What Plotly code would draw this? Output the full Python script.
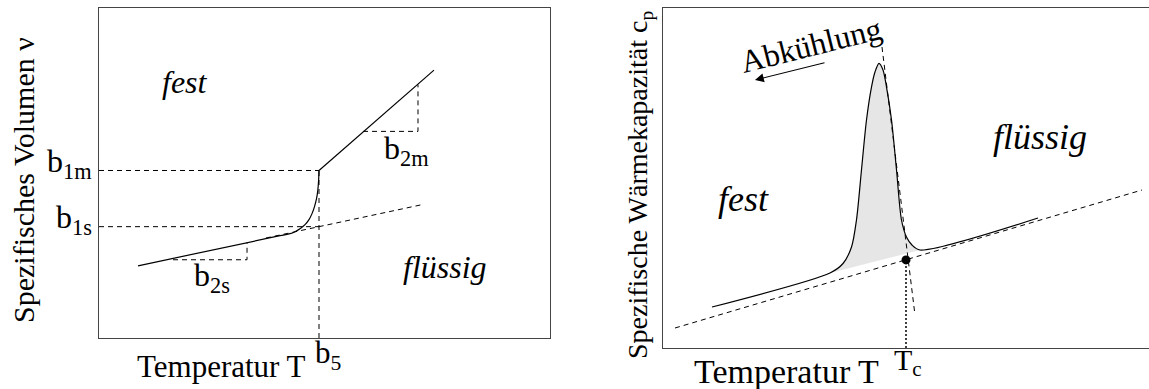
import plotly.graph_objects as go

W, H = 1149, 389
FONT = "'Liberation Serif', 'Times New Roman', Times, serif"

# ---------------- Left panel data (schematic units 0..10) ----------------
L_curve_x = [0.865, 4.013, 4.235, 4.346, 4.457, 4.568, 4.656, 4.723, 4.778, 4.823, 4.851, 4.869, 4.878]
L_curve_y = [2.188, 3.100, 3.161, 3.222, 3.313, 3.435, 3.587, 3.769, 3.982, 4.225, 4.468, 4.772, 5.076]
L_upper_x = [4.878, 7.428]
L_upper_y = [5.076, 8.116]
L_tangent_x = [3.70, 7.16]
L_tangent_y = [3.03, 4.04]
L_b1m = 5.076
L_b1s = 3.374
L_b5 = 4.878
L_b2s_x = [1.641, 3.282, 3.282]
L_b2s_y = [2.371, 2.371, 2.888]
L_b2m_x = [5.854, 7.073, 7.073]
L_b2m_y = [6.261, 6.261, 7.680]

# ---------------- Right panel data (schematic units 0..10) ----------------
R_base_x = [0.247, 9.856]
R_base_y = [0.588, 4.647]
R_curve_x = [1.008, 3.436, 3.704, 3.879, 3.981, 4.084, 4.187, 4.290, 4.362, 4.444,
             4.527, 4.599, 4.702, 4.805, 4.907, 5.010, 5.123, 5.288, 7.716]
R_curve_y = [1.206, 2.206, 2.485, 2.971, 3.765, 5.235, 6.706, 7.676, 8.118, 8.374,
             8.176, 7.676, 6.706, 5.235, 3.765, 3.265, 3.029, 2.882, 3.824]
R_peak_x = R_curve_x[1:18]
R_peak_y = R_curve_y[1:18]
R_steep_x = [4.506, 5.185]
R_steep_y = [8.853, 0.971]
R_Tc_x = 5.0
R_Tc_y = 2.59
R_arrow_from = (3.354, 8.403)
R_arrow_to = (1.893, 7.882)


def P(px, py):
    return px / W, 1 - py / H


fig = go.Figure()
blk = dict(color="black", width=1.2)
dsh = dict(color="black", width=1, dash="5px,4px")

# Left traces
fig.add_trace(go.Scatter(x=[0, L_b5], y=[L_b1m, L_b1m], mode="lines", line=dsh, xaxis="x", yaxis="y"))
fig.add_trace(go.Scatter(x=[0, L_b5], y=[L_b1s, L_b1s], mode="lines", line=dsh, xaxis="x", yaxis="y"))
fig.add_trace(go.Scatter(x=[L_b5, L_b5], y=[0, L_b1m], mode="lines", line=dsh, xaxis="x", yaxis="y"))
fig.add_trace(go.Scatter(x=L_tangent_x, y=L_tangent_y, mode="lines", line=dsh, xaxis="x", yaxis="y"))
fig.add_trace(go.Scatter(x=L_b2s_x, y=L_b2s_y, mode="lines", line=dsh, xaxis="x", yaxis="y"))
fig.add_trace(go.Scatter(x=L_b2m_x, y=L_b2m_y, mode="lines", line=dsh, xaxis="x", yaxis="y"))
fig.add_trace(go.Scatter(x=L_curve_x, y=L_curve_y, mode="lines", line=dict(blk, shape="spline", smoothing=0.8),
                         xaxis="x", yaxis="y"))
fig.add_trace(go.Scatter(x=L_upper_x, y=L_upper_y, mode="lines", line=blk, xaxis="x", yaxis="y"))

# Right traces
fig.add_trace(go.Scatter(x=R_peak_x, y=R_peak_y, mode="lines", fill="toself", fillcolor="#e6e6e6",
                         line=dict(width=0, shape="spline", smoothing=0.8), xaxis="x2", yaxis="y2"))
fig.add_trace(go.Scatter(x=R_base_x, y=R_base_y, mode="lines", line=dsh, xaxis="x2", yaxis="y2"))
fig.add_trace(go.Scatter(x=R_steep_x, y=R_steep_y, mode="lines", line=dsh, xaxis="x2", yaxis="y2"))
fig.add_trace(go.Scatter(x=[R_Tc_x, R_Tc_x], y=[0, R_Tc_y], mode="lines",
                         line=dict(color="black", width=1.5, dash="2px,2px"), xaxis="x2", yaxis="y2"))
fig.add_trace(go.Scatter(x=R_curve_x, y=R_curve_y, mode="lines", line=dict(blk, shape="spline", smoothing=0.8),
                         xaxis="x2", yaxis="y2"))
fig.add_trace(go.Scatter(x=[R_Tc_x], y=[R_Tc_y], mode="markers", marker=dict(color="black", size=9),
                         xaxis="x2", yaxis="y2"))

ax_common = dict(range=[0, 10], showgrid=False, zeroline=False, showticklabels=False, ticks="",
                 showline=True, linecolor="#444", linewidth=1.3)
fig.update_layout(
    width=W, height=H, margin=dict(l=0, r=0, t=0, b=0),
    paper_bgcolor="white", plot_bgcolor="white", showlegend=False,
    font=dict(family=FONT, color="black"),
    xaxis=dict(ax_common, domain=[99 / W, 550 / W], mirror=True, anchor="y"),
    yaxis=dict(ax_common, domain=[1 - 338 / H, 1 - 8 / H], mirror=True, anchor="x"),
    xaxis2=dict(ax_common, domain=[663 / W, 1.0], mirror=True, anchor="y2"),
    yaxis2=dict(ax_common, domain=[1 - 348 / H, 1 - 8 / H], mirror=False, anchor="x2"),
)

ann = []


def txt(text, px, py, size, xa="center", ya="middle", angle=0):
    x, y = P(px, py)
    ann.append(dict(text=text, x=x, y=y, xref="paper", yref="paper", showarrow=False,
                    xanchor=xa, yanchor=ya, textangle=angle,
                    font=dict(family=FONT, size=size, color="black")))


# Left labels
txt("Spezifisches Volumen ν", 23, 180, 30, angle=-90)
txt("Temperatur T", 221, 366, 31)
txt("b<sub>5</sub>", 328, 355, 31)
txt("b<sub>1m</sub>", 94, 163, 32, xa="right")
txt("b<sub>1s</sub>", 94, 219, 32, xa="right")
txt("b<sub>2s</sub>", 212, 277, 32)
txt("b<sub>2m</sub>", 407, 150, 32)
txt("<i>fest</i>", 185, 82, 32)
txt("<i>flüssig</i>", 445, 267, 32)

# Right labels
txt("Spezifische Wärmekapazität c<sub>p</sub>", 640, 185, 28, angle=-90)
txt("Temperatur T", 786, 371, 34)
txt("T<sub>c</sub>", 908, 362, 30)
txt("<i>fest</i>", 743, 199, 36)
txt("<i>flüssig</i>", 1040, 137, 36)
txt("Abkühlung", 811, 45, 32, angle=-14)

# Arrow
ann.append(dict(x=R_arrow_to[0], y=R_arrow_to[1], ax=R_arrow_from[0], ay=R_arrow_from[1],
                xref="x2", yref="y2", axref="x2", ayref="y2", text="", showarrow=True,
                arrowhead=2, arrowsize=1.6, arrowwidth=1.1, arrowcolor="black"))

fig.update_layout(annotations=ann)
fig.write_html("out.html")
